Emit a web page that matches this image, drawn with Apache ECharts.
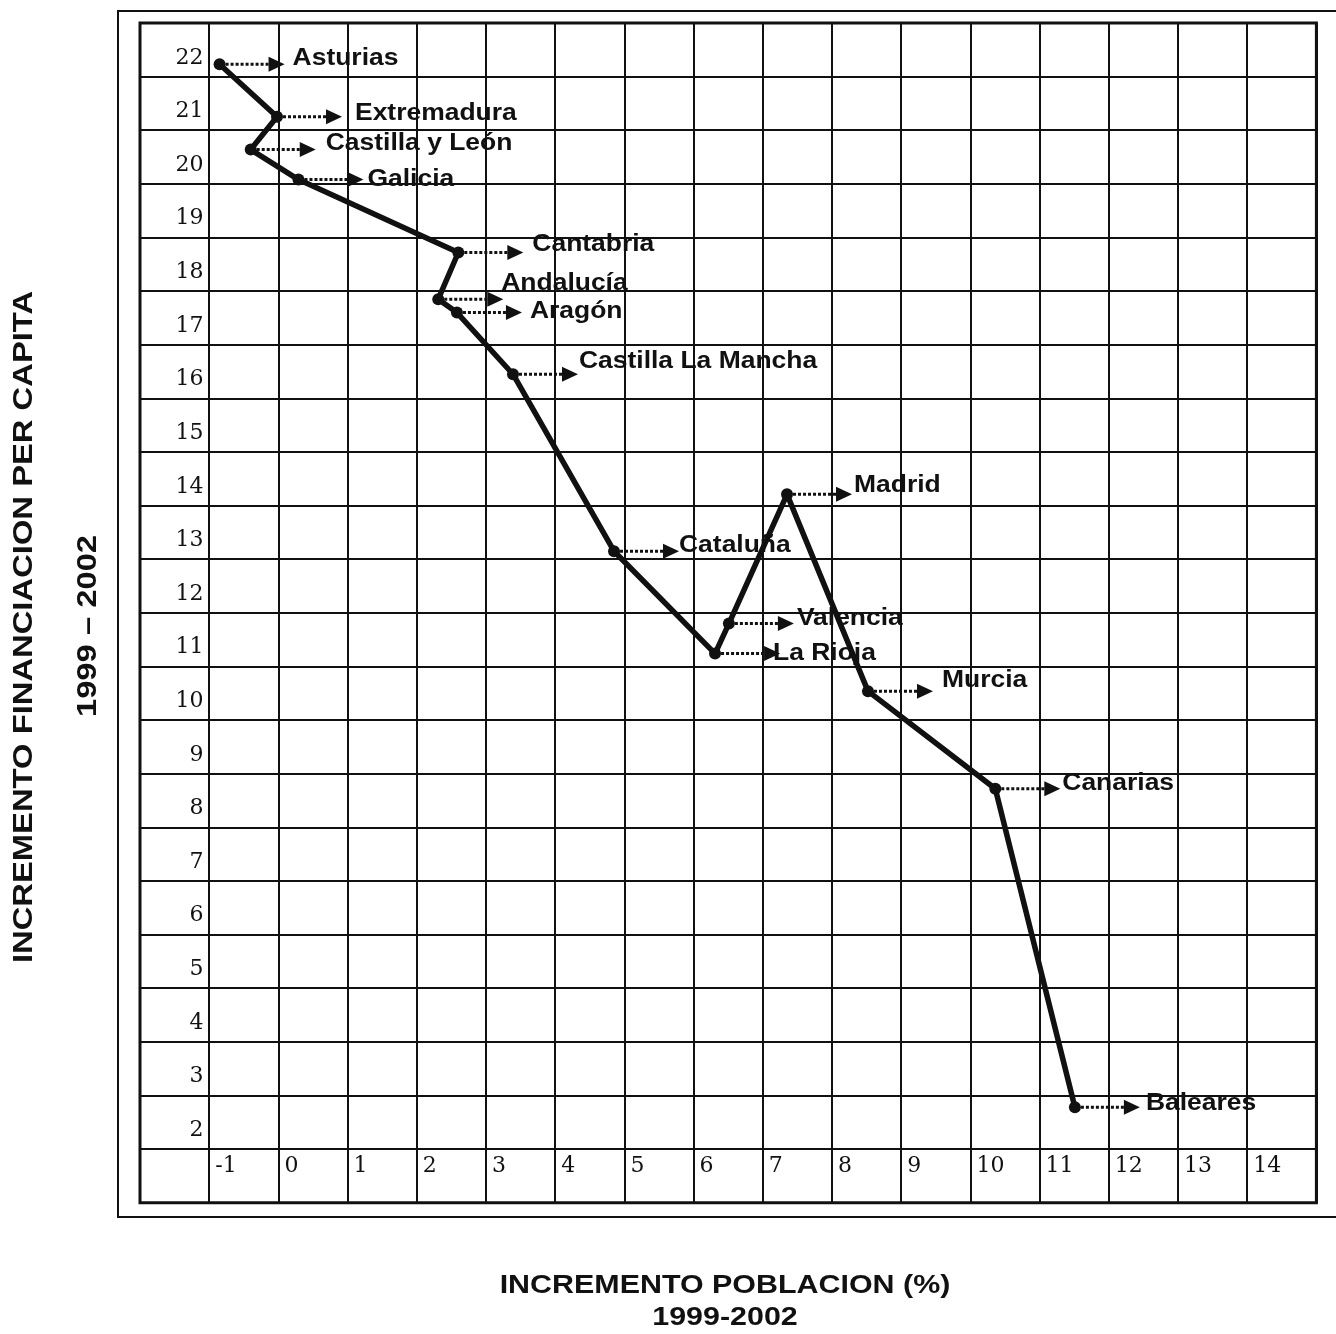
<!DOCTYPE html>
<html>
<head>
<meta charset="utf-8">
<script src="https://cdn.jsdelivr.net/npm/echarts@6/dist/echarts.min.js"></script>
<style>
html,body{margin:0;padding:0;background:#fff;}
#chart{width:1336px;height:1334px;}
</style>
</head>
<body>
<div id="chart"></div>
<script>
// regions in the order the line joins them
const regions = ['Asturias','Extremadura','Castilla y León','Galicia','Cantabria','Andalucía','Aragón',
  'Castilla La Mancha','Cataluña','La Rioja','Valencia','Madrid','Murcia','Canarias','Baleares'];
// incremento poblacion (%) 1999-2002
const poblacion = [-0.85, -0.02, -0.4, 0.29, 2.6, 2.31, 2.58, 3.39, 4.85, 6.31, 6.51, 7.35, 8.52, 10.36, 11.51];
// incremento financiacion per capita 1999-2002
const financiacion = [21.73, 20.75, 20.14, 19.58, 18.22, 17.35, 17.10, 15.95, 12.65, 10.74, 11.30, 13.71, 10.04, 8.22, 2.28];

const xTicks = [-1,0,1,2,3,4,5,6,7,8,9,10,11,12,13,14];
const yTicks = [2,3,4,5,6,7,8,9,10,11,12,13,14,15,16,17,18,19,20,21,22];

// label placement next to each point, px [dx, dy]
const labelPos = {
  'Asturias':[73,-6], 'Extremadura':[78,-3], 'Castilla y León':[75,-6], 'Galicia':[69,0],
  'Cantabria':[74,-8], 'Andalucía':[63,-16], 'Aragón':[73,-1], 'Castilla La Mancha':[66,-13],
  'Cataluña':[65,-6], 'La Rioja':[58,0], 'Valencia':[68,-5], 'Madrid':[67,-9],
  'Murcia':[74,-10], 'Canarias':[67,-5], 'Baleares':[71,-4]
};

const ink = '#111';
const points = regions.map((r, i) => [poblacion[i], financiacion[i]]);

const chart = echarts.init(document.getElementById('chart'));

function arrowItem(params, api){
  const p = api.coord([api.value(0), api.value(1)]);
  const name = regions[params.dataIndex];
  const off = labelPos[name];
  return {
    type:'group',
    children:[
      {type:'line', shape:{x1:p[0]+6, y1:p[1], x2:p[0]+50, y2:p[1]},
       style:{stroke:ink, lineWidth:3, lineDash:[3,2]}},
      {type:'polygon', shape:{points:[[p[0]+49,p[1]-7.5],[p[0]+65,p[1]],[p[0]+49,p[1]+7.5]]},
       style:{fill:ink}},
      {type:'text', x:p[0]+off[0], y:p[1]+off[1], scaleX:1.15,
       style:{text:name, fontFamily:'"Liberation Sans", Arial, sans-serif', fontWeight:'bold', fontSize:23,
              fill:ink, align:'left', verticalAlign:'middle'}}
    ]
  };
}

chart.setOption({
  animation:false,
  backgroundColor:'#fff',
  grid:[
    {left:140, right:19.6, top:23, bottom:131.3, show:true, borderColor:ink, borderWidth:3},
    {left:209.2, right:19.6, top:23, bottom:184.9}
  ],
  xAxis:[
    {gridIndex:0, type:'value', min:0, max:17, interval:1,
     axisLine:{show:false}, axisTick:{show:false}, axisLabel:{show:false},
     splitLine:{show:true, lineStyle:{color:ink, width:2}}},
    {gridIndex:1, type:'value', min:-1, max:15, interval:1,
     axisLine:{show:false}, axisTick:{show:false}, splitLine:{show:false},
     axisLabel:{margin:6, align:'left', padding:[0,0,0,6], fontFamily:'DejaVu Serif', fontSize:22, color:ink,
       formatter: v => xTicks.includes(v) ? String(v) : ''}}
  ],
  yAxis:[
    {gridIndex:0, type:'category', boundaryGap:true, data:[''].concat(yTicks.map(String)),
     axisLine:{show:false}, axisTick:{show:false},
     splitLine:{show:true, interval:0, lineStyle:{color:ink, width:2}},
     axisLabel:{inside:true, interval:0, margin:63.5, align:'right', verticalAlign:'top', lineHeight:16,
       fontFamily:'DejaVu Serif', fontSize:22, color:ink}},
    {gridIndex:1, type:'value', min:1.5, max:22.5, show:false}
  ],
  graphic:[
    {type:'rect', shape:{x:118, y:11, width:1240, height:1206}, style:{fill:null, stroke:ink, lineWidth:2}, z:-1},
    {type:'text', x:24, y:627, rotation:Math.PI/2, scaleX:1.17,
     style:{text:'INCREMENTO FINANCIACION PER CAPITA', fontFamily:'"Liberation Sans", Arial, sans-serif',
            fontWeight:'bold', fontSize:28, fill:ink, align:'center', verticalAlign:'middle'}},
    {type:'text', x:88, y:626, rotation:Math.PI/2, scaleX:1.17,
     style:{text:'1999 – 2002', fontFamily:'"Liberation Sans", Arial, sans-serif',
            fontWeight:'bold', fontSize:28, fill:ink, align:'center', verticalAlign:'middle'}},
    {type:'text', x:725, y:1286, scaleX:1.17,
     style:{text:'INCREMENTO POBLACION (%)', fontFamily:'"Liberation Sans", Arial, sans-serif',
            fontWeight:'bold', fontSize:26, fill:ink, align:'center', verticalAlign:'middle'}},
    {type:'text', x:725, y:1318, scaleX:1.17,
     style:{text:'1999-2002', fontFamily:'"Liberation Sans", Arial, sans-serif',
            fontWeight:'bold', fontSize:26, fill:ink, align:'center', verticalAlign:'middle'}}
  ],
  series:[
    {type:'line', xAxisIndex:1, yAxisIndex:1, data:points, symbol:'circle', symbolSize:12,
     lineStyle:{color:ink, width:5.5}, itemStyle:{color:ink}, z:5},
    {type:'custom', xAxisIndex:1, yAxisIndex:1, data:points, renderItem:arrowItem, z:6}
  ]
});
</script>
</body>
</html>
